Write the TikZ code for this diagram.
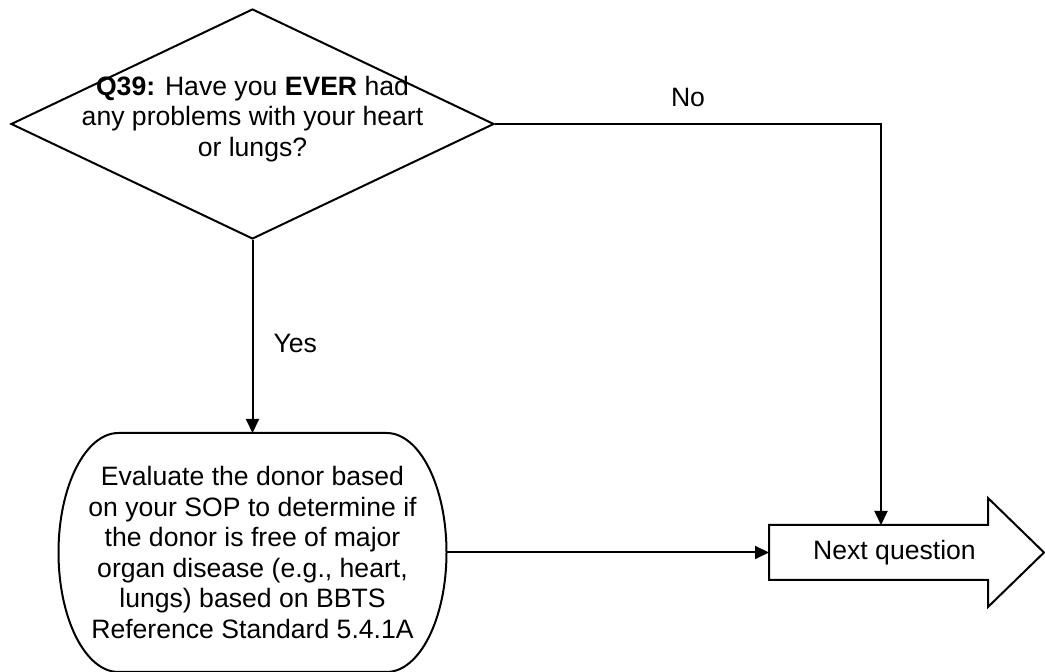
\documentclass[tikz,border=0pt]{standalone}
\usepackage{fontspec}
\setmainfont{Liberation Sans}
\usetikzlibrary{positioning,shapes,arrows.meta}
\tikzstyle{arrow} = [line width=1pt,-{Triangle[length=7pt,width=6.5pt]}]

\begin{document}
\begin{tikzpicture}[x=0.5pt,y=-0.5pt,line width=1pt,
	every node/.style={font=\fontsize{13.3pt}{15.25pt}\selectfont}]
	\useasboundingbox (0,0) rectangle (1045,672);
	\node (q39) [diamond, draw=black, minimum width=241.5pt, minimum height=115pt, inner sep=0pt,
		label={[align=center, yshift=2.5pt]center:{\textbf{Q39:} Have you \textbf{EVER} had\\any problems with your heart\\or lungs?}}] at (252.5,124) {};
	\node (eval) [minimum width=193pt, minimum height=118.5pt, inner sep=0pt, align=center] at (252.5,552.5)
		{Evaluate the donor based\\on your SOP to determine if\\the donor is free of major\\organ disease (e.g., heart,\\lungs) based on BBTS\\Reference Standard 5.4.1A};
	\node (next) [minimum width=108.5pt, minimum height=26.5pt, inner sep=0pt] at (878.5,552.5) {\hspace*{16pt}Next question};
	% outlines
	\draw ([xshift=30pt]eval.north west) -- ([xshift=-30pt]eval.north east)
		arc[start angle=90, end angle=-90, x radius=30pt, y radius=59.75pt]
		-- ([xshift=30pt]eval.south west)
		arc[start angle=270, end angle=90, x radius=30pt, y radius=59.75pt] -- cycle;
	\draw (next.north west) -- (next.north east) -- ++(0,-27) -- (1044,552.5) -- ([yshift=-13.5pt]next.south east) -- (next.south east) -- (next.south west) -- cycle;
	\draw[arrow] (q39.south) -- node[anchor=west, inner sep=0pt, xshift=10pt, yshift=-3.5pt] (yes) {Yes} (eval.north);
	\draw[arrow] (q39.east) -| node[pos=0.25, anchor=south, inner sep=0pt, yshift=8pt] (no) {No} ([xshift=1.25pt]next.north);
	\draw[arrow] (eval.east) -- (next.west);
\end{tikzpicture}
\end{document}
